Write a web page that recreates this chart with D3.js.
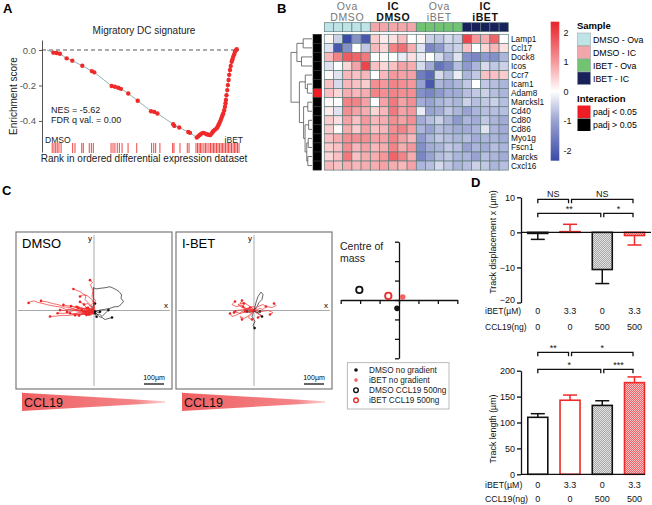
<!DOCTYPE html>
<html><head><meta charset="utf-8">
<script src="https://cdn.jsdelivr.net/npm/d3@7"></script>
<style>body{margin:0;background:#fff}svg{display:block}text{font-family:"Liberation Sans",Arial,sans-serif}</style>
</head><body><svg id="c" width="652" height="505"></svg>
<script>
// ---------------- DATA ----------------
// Panel A: GSEA running enrichment score
const gseaRank = [3.3,5.0,6.7,10.2,13.1,18.3,23.2,24.5,33.5,35.2,36.9,38.3,42.1,47.0,53.9,55.6,57.2,65.4,66.0,68.5,73.2,74.1,77.6,
  78.4,79.0,79.6,80.3,81.0,81.8,82.7,83.6,84.5,85.3,85.8,86.2,87.0,87.9,88.4,88.8,89.2,89.6,90.1,90.5,90.9,91.3,91.8,92.2,92.5,92.7,93.0,93.4,93.7,94.1,94.4,94.8,95.2,95.7,96.1,96.5,97.0,97.4,97.9,98.3];
const gseaES = [-0.015,-0.017,-0.021,-0.047,-0.060,-0.089,-0.119,-0.126,-0.203,-0.207,-0.213,-0.219,-0.245,-0.286,-0.345,-0.349,-0.358,-0.418,-0.428,-0.437,-0.462,-0.467,-0.493,
  -0.486,-0.480,-0.474,-0.470,-0.467,-0.470,-0.475,-0.478,-0.480,-0.471,-0.463,-0.456,-0.450,-0.442,-0.433,-0.424,-0.415,-0.405,-0.393,-0.380,-0.369,-0.358,-0.340,-0.320,-0.300,-0.282,-0.255,-0.226,-0.198,-0.169,-0.140,-0.113,-0.090,-0.066,-0.052,-0.038,-0.024,-0.010,-0.002,0.004];
const rugRanks = [2.7,3.6,4.5,5.3,6.2,7.3,13.3,14.5,18.0,18.8,21.9,23.0,24.0,33.2,34.2,35.2,36.4,37.5,38.9,42.0,46.5,54.2,55.3,56.3,58.5,65.1,65.8,68.9,72.7,73.6,
  77.2,78.0,78.8,79.5,80.3,81.3,82.1,82.9,83.9,84.7,85.5,86.3,87.0,87.8,88.6,89.4,90.2,90.9,91.7,92.5,93.3,94.0,94.8,95.6,96.4,97.2,97.9,98.7,99.5];
const esTicks = [0, -0.2, -0.4];

// Panel B: heatmap
const genes = ["Lamp1","Ccl17","Dock8","Icos","Ccr7","Icam1","Adam8","Marcksl1","Cd40","Cd80","Cd86","Myo1g","Fscn1","Marcks","Cxcl16"];
const sampleGroups = ["DMSO - Ova","DMSO - IC","IBET - Ova","IBET - IC"];
const groupColors = ["#bfe4e8","#f4a7aa","#72c472","#18215a"];
const groupHeaderTop = ["Ova","IC","Ova","IC"];
const groupHeaderBottom = ["DMSO","DMSO","iBET","iBET"];
const interaction = [0,0,0,0,0,0,1,0,0,0,0,0,0,0,0]; // 1 = padj < 0.05
const heat = [
 [0.1,-0.5,-2.0,-1.2,-1.8, 0.5,0.2,0.3,0.6,0.0, 0.1,-0.5,-0.6,-0.4,-0.5, 1.8,1.0,0.8,1.5,0.0],
 [-0.3,-1.8,-1.2,0.0,-0.6, 0.7,0.4,1.2,1.4,0.8, -0.3,-1.3,-1.1,-0.6,-0.5, 0.6,0.0,0.4,0.7,0.3],
 [0.7,1.2,1.6,1.5,1.3, 0.0,0.05,0.0,-0.2,0.3, -0.2,0.0,-0.4,-0.8,-0.3, -1.2,-1.3,-1.1,-1.2,-0.8],
 [-0.3,0.0,0.4,0.9,1.8, 0.6,0.4,0.6,0.9,0.8, -0.4,-0.9,-1.5,-1.3,-0.7, -1.1,-0.8,-0.4,-0.6,-0.5],
 [0.05,-0.3,0.7,0.6,0.7, 0.0,0.7,1.0,0.9,0.9, -1.4,-1.6,-0.4,-0.7,-0.2, -0.8,-0.6,0.6,0.6,0.5],
 [0.6,-0.4,0.7,0.6,0.5, 1.1,1.0,1.2,1.1,1.0, -1.0,-1.8,-0.8,-0.9,-0.8, -0.6,0.0,-0.6,-0.7,-0.8],
 [0.6,0.4,0.8,0.7,0.8, 1.2,1.1,1.2,1.1,1.1, -1.2,-1.3,-1.1,-0.9,-0.9, -0.7,-0.6,-0.5,-0.7,-0.8],
 [0.05,0.0,1.2,1.2,0.9, 0.0,0.9,1.3,0.9,1.1, -0.9,-1.0,-0.8,-0.7,-0.8, -0.5,-0.7,-0.6,-0.5,-0.7],
 [0.2,-0.3,1.1,0.9,0.8, 0.4,0.7,1.3,0.9,1.0, -0.2,-1.0,-0.9,-0.6,-0.8, -1.0,-0.8,-0.7,-0.7,-0.7],
 [0.5,0.3,0.9,0.6,1.0, 0.7,0.8,1.1,0.9,1.1, -0.9,-0.7,-0.5,-0.8,-1.1, -0.8,-0.9,-0.6,-0.8,-0.9],
 [0.5,0.05,0.8,0.5,0.9, 0.6,0.7,1.1,1.2,0.9, -0.8,-1.0,-0.7,-0.8,-0.9, -0.9,-0.8,-0.3,-0.8,-0.9],
 [0.6,0.8,1.1,1.1,1.1, 0.9,0.9,1.2,0.9,0.7, -1.1,-0.8,-0.6,-0.7,-0.8, -0.7,-0.9,-0.8,-0.8,-0.9],
 [0.5,0.6,1.1,0.7,0.9, 0.7,0.8,1.2,0.8,1.0, -1.2,-0.9,-0.8,-0.6,-0.7, -1.0,-0.8,-0.9,-0.7,-0.8],
 [0.4,0.6,1.3,0.6,0.8, 0.8,1.0,1.5,1.2,0.8, -1.3,-1.0,-0.7,-0.6,-0.8, -0.8,-1.0,-0.7,-0.8,-0.9],
 [0.7,0.6,0.8,0.7,0.8, 0.8,0.9,0.8,0.7,0.9, -0.8,-0.7,-0.4,-0.6,-0.8, -0.7,-0.5,-0.6,-0.8,-0.7]
];
const colorbarTicks = [2,1,0,-1,-2];
const dendro = {h:1.0, c:[
  {h:0.72, c:[{h:0.42,c:["Lamp1","Ccl17"]},{h:0.5,c:["Dock8","Icos"]}]},
  {h:0.6, c:[
     {h:0.32, c:["Ccr7",{h:0.22,c:["Icam1","Adam8"]}]},
     {h:0.4, c:[{h:0.2,c:["Marcksl1","Cd40"]},
                {h:0.33,c:[{h:0.16,c:["Cd80","Cd86"]},
                           {h:0.25,c:[{h:0.18,c:["Myo1g","Fscn1"]},{h:0.2,c:["Marcks","Cxcl16"]}]}]}]}
  ]}
]};

// Panel C: tracks (µm, x right, y up)
const dmsoRedTracks = [
 [[0,-5],[-25,-8],[-50,-2],[-80,4],[-110,8],[-140,5],[-170,18],[-200,22],[-230,28],[-255,35],[-280,40],[-300,48],[-315,45],[-327,38]],
 [[0,-8],[-30,-6],[-60,0],[-90,4],[-120,15],[-150,18],[-180,30],[-205,34],[-230,42],[-265,48]],
 [[0,-12],[-25,-10],[-50,-15],[-80,-13],[-110,-18],[-130,-12],[-150,-14],[-182,-14]],
 [[0,5],[-15,25],[-5,40],[-10,55],[-35,75],[-50,80],[-70,95],[-85,100],[-103,108]],
 [[5,0],[0,35],[8,50],[-10,70],[-5,100],[-18,130],[-8,140],[-20,152]],
 [[0,-3],[-25,10],[-38,12],[-50,30],[-70,43]],
 [[0,-6],[-30,-8],[-60,-2],[-90,0],[-120,5],[-145,0],[-170,2]],
 [[0,-10],[-20,-12],[-40,-18],[-60,-10],[-80,-12],[-100,-18],[-120,-14]],
 [[0,0],[-30,5],[-45,2],[-60,15],[-87,19]],
 [[0,-4],[-25,0],[-50,8],[-75,10],[-100,20],[-125,22],[-153,28]],
 [[0,-8],[-25,-10],[-38,-4],[-53,-6]],
 [[0,-10],[-30,-18],[-60,-20],[-95,-20],[-130,-25],[-160,-24],[-185,-28],[-220,-30]],
 [[0,2],[-20,30],[-45,55],[-40,75],[-55,78],[-70,70]],
 [[0,-2],[-35,0],[-50,-6],[-70,-5],[-100,0],[-118,-5],[-135,-8]],
 [[0,-12],[-20,-5],[-45,-20],[-60,-18],[-75,-25]],
 [[0,3],[-15,15],[-30,35],[-50,30]],
 [[0,-15],[-30,-22],[-45,-16],[-60,-18],[-95,-24]],
 [[0,6],[-20,4],[-40,12],[-60,8],[-80,10],[-115,22]],
 [[0,-5],[-15,-8],[-30,-3],[-42,-10]],
 [[0,-10],[-12,-20],[-28,-15],[-38,-22]],
 [[0,0],[-10,8],[-25,5],[-35,12]],
 [[0,-15],[-18,-12],[-33,-18]],
 [[0,-3],[-20,-6],[-35,0],[-50,-4],[-62,2]],
 [[0,5],[-12,10],[-22,4],[-30,14]],
 [[0,-8],[-8,-18],[-20,-25],[-26,-20]],
 [[0,2],[-30,12],[-55,8],[-78,14]]
];
const dmsoBlackTracks = [
 [[0,10],[-3,50],[-3,115],[10,108],[30,111],[55,114],[80,119],[100,110],[113,103],[125,95],[138,78],[135,62],[147,45],[135,30],[122,20],[100,18],[80,11],[55,6],[30,2],[5,-5]],
 [[0,0],[15,-20],[28,-18],[40,-30],[72,2]],
 [[0,-5],[10,-25],[13,-31]],
 [[0,0],[20,-10],[30,-6]],
 [[0,-5],[25,-30],[40,-35],[55,-45],[90,-35]],
 [[0,0],[2,-14]],
 [[0,5],[-8,20],[5,35]]
];
const ibetRedTracks = [
 [[0,0],[-30,10],[-45,5],[-60,25],[-90,20],[-110,30],[-95,45]],
 [[0,0],[-40,-10],[-60,-5],[-80,-20],[-110,-30],[-120,-15]],
 [[0,0],[-20,20],[-50,40],[-70,35],[-60,50]],
 [[0,0],[30,10],[45,5],[60,20],[90,15],[110,25],[100,35]],
 [[0,0],[-25,-25],[-50,-40],[-70,-30],[-60,-45]],
 [[0,0],[-25,8],[-50,5],[-90,0],[-100,-10]],
 [[0,0],[40,-5],[70,0],[95,-10],[80,-20]],
 [[0,0],[-15,-20],[-30,-35],[-10,-45]],
 [[0,0],[-30,5],[-60,15],[-80,30],[-50,35]],
 [[0,0],[20,20],[45,30],[60,20]],
 [[0,0],[-35,-5],[-70,-15],[-95,-5]],
 [[0,0],[15,-15],[35,-25],[20,-35]],
 [[0,0],[-10,15],[-40,10],[-55,20]],
 [[0,0],[-20,-5],[-30,8],[-45,-2]],
 [[0,0],[10,12],[-5,20],[-20,15]]
];
const ibetBlackTracks = [
 [[0,0],[10,40],[20,70],[35,92],[45,80],[40,55],[25,40],[15,20],[0,0]],
 [[0,0],[-10,-30],[5,-55],[-5,-75],[3,-88]],
 [[0,0],[25,-15],[40,-30]],
 [[0,0],[-20,-10],[-35,-5]],
 [[0,0],[10,-10],[30,-5]]
];
// Centre of mass
const comLabels = ["DMSO no gradient","iBET no gradient","DMSO CCL19 500ng","iBET CCL19 500ng"];
const comX = [-1.0, 1.9, -20.4, -5.5];
const comY = [-4.3, 1.5, 5.2, 2.1];

// Panel D
const ibetDose = ["0","3.3","0","3.3"];
const ccl19Dose = ["0","0","500","500"];
const dispMean = [-0.3, 0.2, -10.6, -0.9];
const dispErr  = [1.7, 2.1, 4.0, 2.7];
const lenMean = [110, 143, 133, 177];
const lenErr  = [7, 10, 9, 11];
const dispTicks = [10,0,-10,-20];
const lenTicks = [0,50,100,150,200];
const dispSig = [{a:0,b:1,lv:0,t:"NS"},{a:1,b:3,lv:0,t:"NS"},{a:0,b:2,lv:1,t:"**"},{a:2,b:3,lv:1,t:"*"}];
const lenSig  = [{a:0,b:1,lv:0,t:"**"},{a:1,b:3,lv:0,t:"*"},{a:0,b:2,lv:1,t:"*"},{a:2,b:3,lv:1,t:"***"}];

// ---------------- DRAW ----------------
const svg = d3.select("#c");
const defs = svg.append("defs");
function checker(id, base, light){
  const p = defs.append("pattern").attr("id",id).attr("patternUnits","userSpaceOnUse").attr("width",2).attr("height",2);
  p.append("rect").attr("width",2).attr("height",2).attr("fill",base);
  p.append("rect").attr("width",1).attr("height",1).attr("fill",light);
  p.append("rect").attr("x",1).attr("y",1).attr("width",1).attr("height",1).attr("fill",light);
}
checker("chkGrey","#a8a8a8","#e2e2e2");
checker("chkPink","#ee6468","#f9c3c5");

[["A",3,13],["B",277,13],["C",2,195],["D",471,187]].forEach(([t,x,y])=>
  svg.append("text").attr("x",x).attr("y",y).attr("font-size",13).attr("font-weight","bold").text(t));

// ===== Panel A =====
const gA = svg.append("g");
const xA = d3.scaleLinear().domain([0,100]).range([47,240]);
const yA = d3.scaleLinear().domain([-0.575,0.0563]).range([152,40]);
gA.append("text").attr("x",144).attr("y",34).attr("text-anchor","middle").attr("font-size",10).attr("fill","#222").text("Migratory DC signature");
const axA = gA.append("g").attr("transform","translate(42,0)")
  .call(d3.axisLeft(yA).tickValues(esTicks).tickFormat(d=>d.toFixed(1)).tickSize(3).tickSizeOuter(0));
axA.select(".domain").attr("stroke","#555");
axA.selectAll(".tick line").attr("stroke","#555");
axA.selectAll(".tick text").attr("fill","#555").attr("font-size",9.5).attr("font-family","Liberation Sans, Arial");
gA.append("line").attr("x1",42).attr("x2",239).attr("y1",yA(0)).attr("y2",yA(0))
  .attr("stroke","#444").attr("stroke-dasharray","4,3").attr("stroke-width",0.9);
gA.append("text").attr("transform","translate(17,96) rotate(-90)").attr("text-anchor","middle").attr("font-size",10).attr("fill","#222").text("Enrichment score");
const pts = gseaRank.map((r,i)=>[r,gseaES[i]]);
gA.append("path").attr("d",d3.line().x(d=>xA(d[0])).y(d=>yA(d[1]))([[0,0]].concat(pts)))
  .attr("fill","none").attr("stroke","#7d9a9a").attr("stroke-width",0.8);
gA.selectAll("circle.es").data(pts).join("circle").attr("cx",d=>xA(d[0])).attr("cy",d=>yA(d[1])).attr("r",2.2).attr("fill","#ee2a2a");
gA.selectAll("line.rug").data(rugRanks).join("line").attr("x1",d=>xA(d)).attr("x2",d=>xA(d))
  .attr("y1",143).attr("y2",153).attr("stroke","#ee3030").attr("stroke-width",0.9);
gA.append("text").attr("x",51).attr("y",113).attr("font-size",9).attr("fill","#222").text("NES = -5.62");
gA.append("text").attr("x",51).attr("y",123).attr("font-size",9).attr("fill","#222").text("FDR q val. = 0.00");
gA.append("text").attr("x",45).attr("y",142.5).attr("font-size",8.5).attr("fill","#222").text("DMSO");
gA.append("text").attr("x",243).attr("y",142.5).attr("text-anchor","end").attr("font-size",8.5).attr("fill","#222").text("iBET");
gA.append("text").attr("x",144).attr("y",162).attr("text-anchor","middle").attr("font-size",10).attr("fill","#222").text("Rank in ordered differential expression dataset");

// ===== Panel B =====
const gB = svg.append("g");
const nCol = heat[0].length;
const xB = d3.scaleBand().domain(d3.range(nCol)).range([324.3,508.3]);
const yB = d3.scaleBand().domain(genes).range([34.3,170.1]);
const cB = d3.scaleLinear().domain([-1.95,0,2.15]).range(["#3a4aa6","#ffffff","#e8222a"]).clamp(true);
const cellStroke = "#5f7c7c";
const groupOf = c => Math.floor(c/5);
gB.selectAll("rect.hdr").data(d3.range(nCol)).join("rect")
  .attr("x",c=>xB(c)).attr("y",22.7).attr("width",xB.bandwidth()).attr("height",9)
  .attr("fill",c=>groupColors[groupOf(c)]).attr("stroke",cellStroke).attr("stroke-width",0.7);
sampleGroups.forEach((g,i)=>{
  const cx = xB(i*5) + xB.bandwidth()*2.5;
  const isIC = groupHeaderTop[i]==="IC";
  const t = gB.append("text").attr("text-anchor","middle").attr("font-family","Open Sans, sans-serif")
    .attr("font-size",10.5).attr("fill",isIC?"#111":"#777").attr("font-weight",isIC?600:400).attr("letter-spacing",0.6);
  t.append("tspan").attr("x",cx).attr("y",10).text(groupHeaderTop[i]);
  t.append("tspan").attr("x",cx).attr("y",20.5).text(groupHeaderBottom[i]);
});
heat.forEach((row,r)=>{
  gB.selectAll("rect.r"+r).data(row).join("rect")
   .attr("x",(d,c)=>xB(c)).attr("y",yB(genes[r])).attr("width",xB.bandwidth()).attr("height",yB.bandwidth())
   .attr("fill",d=>cB(d)).attr("stroke",cellStroke).attr("stroke-width",0.7);
});
gB.selectAll("text.gene").data(genes).join("text").attr("x",511).attr("y",d=>yB(d)+yB.bandwidth()/2+3)
  .attr("font-size",8.3).attr("fill","#111").text(d=>d);
gB.selectAll("rect.int").data(genes).join("rect").attr("x",313).attr("y",d=>yB(d)).attr("width",8.5).attr("height",yB.bandwidth())
  .attr("fill",(d,i)=>interaction[i]?"#ee1c25":"#000").attr("stroke","#333").attr("stroke-width",0.6);
const xH = d3.scaleLinear().domain([0,1]).range([312,291]);
function drawNode(n){
  if(typeof n==="string") return {x:xH(0), y:yB(n)+yB.bandwidth()/2};
  const ch = n.c.map(drawNode);
  const x = xH(n.h);
  const ys = ch.map(c=>c.y);
  gB.append("line").attr("x1",x).attr("x2",x).attr("y1",d3.min(ys)).attr("y2",d3.max(ys)).attr("stroke","#555").attr("stroke-width",0.8);
  ch.forEach(c=>gB.append("line").attr("x1",x).attr("x2",c.x).attr("y1",c.y).attr("y2",c.y).attr("stroke","#555").attr("stroke-width",0.8));
  return {x, y:(ys[0]+ys[ys.length-1])/2};
}
drawNode(dendro);
const cbScale = d3.scaleLinear().domain([-2.35,2.35]).range([160.7,21.7]);
const grad = defs.append("linearGradient").attr("id","cbGrad").attr("x1",0).attr("x2",0).attr("y1",1).attr("y2",0);
[-2.35,-1,0,1,2.35].forEach(v=>grad.append("stop").attr("offset",((v+2.35)/4.7*100)+"%").attr("stop-color",cB(v)));
gB.append("rect").attr("x",550.7).attr("y",21.7).attr("width",8.6).attr("height",139).attr("fill","url(#cbGrad)");
gB.selectAll("text.cbt").data(colorbarTicks).join("text").attr("x",563.5).attr("y",d=>cbScale(d)+3.5)
  .attr("font-size",9).attr("fill","#111").text(d=>d);
gB.append("text").attr("x",577).attr("y",29).attr("font-size",9.5).attr("font-weight","bold").text("Sample");
sampleGroups.forEach((g,i)=>{
  gB.append("rect").attr("x",577.5).attr("y",33+i*13).attr("width",13).attr("height",12.5).attr("fill",groupColors[i]).attr("stroke","#8a9a9a").attr("stroke-width",0.5);
  gB.append("text").attr("x",593).attr("y",42.5+i*13).attr("font-size",8.8).text(g);
});
gB.append("text").attr("x",577).attr("y",102).attr("font-size",9.5).attr("font-weight","bold").text("Interaction");
["padj < 0.05","padj > 0.05"].forEach((g,i)=>{
  gB.append("rect").attr("x",577.5).attr("y",105.5+i*13).attr("width",13).attr("height",12.5).attr("fill",i?"#000":"#ee1c25");
  gB.append("text").attr("x",593).attr("y",115+i*13).attr("font-size",8.8).text(g);
});

// ===== Panel C =====
const gC = svg.append("g");
function trackPanel(x0, title, redT, blackT){
  const x1 = x0+156, yTop=232, yBot=389;
  const sx = d3.scaleLinear().domain([-390,390]).range([x0,x1]);
  const sy = d3.scaleLinear().domain([-393,393]).range([yBot,yTop]);
  gC.append("rect").attr("x",x0).attr("y",yTop).attr("width",156).attr("height",yBot-yTop).attr("fill","#fff").attr("stroke","#7a7a7a").attr("stroke-width",1.2);
  gC.append("line").attr("x1",x0+2).attr("x2",x1-2).attr("y1",sy(0)).attr("y2",sy(0)).attr("stroke","#aaa").attr("stroke-width",1);
  gC.append("line").attr("x1",sx(0)).attr("x2",sx(0)).attr("y1",yTop+3).attr("y2",yBot-3).attr("stroke","#aaa").attr("stroke-width",1);
  gC.append("text").attr("x",sx(0)-2).attr("y",yTop+9).attr("text-anchor","end").attr("font-size",8).attr("font-family","Lato, sans-serif").text("y");
  gC.append("text").attr("x",x1-6).attr("y",sy(0)-3).attr("text-anchor","middle").attr("font-size",8).attr("font-family","Lato, sans-serif").text("x");
  gC.append("text").attr("x",x0+6).attr("y",yTop+16).attr("font-size",13).attr("font-family","Lato, sans-serif").text(title);
  const line = d3.line().x(d=>sx(d[0])).y(d=>sy(d[1])).curve(d3.curveLinear);
  [[blackT,"#111"],[redT,"#ee2424"]].forEach(([T,col])=>{
    gC.selectAll(null).data(T).join("path").attr("d",line).attr("fill","none").attr("stroke",col).attr("stroke-width",0.65);
    gC.selectAll(null).data(T).join("circle").attr("cx",t=>sx(t[t.length-1][0])).attr("cy",t=>sy(t[t.length-1][1])).attr("r",1.3).attr("fill",col);
  });
  gC.append("text").attr("x",x1-18).attr("y",380).attr("text-anchor","middle").attr("font-size",7).attr("font-family","Lato, sans-serif").text("100µm");
  gC.append("line").attr("x1",x1-28).attr("x2",x1-28+(sx(100)-sx(0))).attr("y1",384).attr("y2",384).attr("stroke","#000").attr("stroke-width",1.2);
  const gid = "wedge"+x0;
  const wg = defs.append("linearGradient").attr("id",gid);
  wg.append("stop").attr("offset","0%").attr("stop-color","#ef6063");
  wg.append("stop").attr("offset","80%").attr("stop-color","#f48487");
  wg.append("stop").attr("offset","100%").attr("stop-color","#fbd2d3");
  gC.append("path").attr("d",`M${x0+6},392.7 L${x1-7},401.3 L${x1-7},402.7 L${x0+6},411 Z`).attr("fill",`url(#${gid})`);
  gC.append("text").attr("x",x0+8).attr("y",406.5).attr("font-size",12.5).attr("font-family","Lato, sans-serif").attr("fill","#111").text("CCL19");
}
trackPanel(16,"DMSO",dmsoRedTracks,dmsoBlackTracks);
trackPanel(176,"I-BET",ibetRedTracks,ibetBlackTracks);

const sxM = d3.scaleLinear().domain([-30,30]).range([340.7,457.3]);
const syM = d3.scaleLinear().domain([-30,30]).range([358.3,241.7]);
const axX = gC.append("g").attr("transform",`translate(0,${syM(0)})`).call(d3.axisBottom(sxM).tickValues([-30,-20,-10,0,10,20,30]).tickSize(4).tickFormat("").tickSizeOuter(0));
const axY = gC.append("g").attr("transform",`translate(${sxM(0)},0)`).call(d3.axisLeft(syM).tickValues([-30,-20,-10,0,10,20,30]).tickSize(4).tickFormat("").tickSizeOuter(0));
[axX,axY].forEach(a=>{a.selectAll("path,line").attr("stroke","#111").attr("stroke-width",1.3);});
gC.append("text").attr("x",340).attr("y",250).attr("font-size",10.5).attr("fill","#222").text("Centre of");
gC.append("text").attr("x",340).attr("y",262).attr("font-size",10.5).attr("fill","#222").text("mass");
const comStyle = [{f:"#111",s:"none"},{f:"#f26060",s:"none"},{f:"#fff",s:"#111"},{f:"#fff",s:"#ee2a2a"}];
comX.forEach((x,i)=>{
  gC.append("circle").attr("cx",sxM(x)).attr("cy",syM(comY[i])).attr("r",i<2?2.8:3.2)
    .attr("fill",comStyle[i].f).attr("stroke",comStyle[i].s).attr("stroke-width",1.8);
});
gC.append("rect").attr("x",347.3).attr("y",362.7).attr("width",101.7).attr("height",46.3).attr("fill","#fff").attr("stroke","#aaa").attr("stroke-width",0.8);
comLabels.forEach((l,i)=>{
  const y = 370+i*10.1;
  gC.append("circle").attr("cx",356).attr("cy",y).attr("r",i<2?1.8:2.3).attr("fill",comStyle[i].f).attr("stroke",comStyle[i].s).attr("stroke-width",1.4);
  gC.append("text").attr("x",369).attr("y",y+3).attr("font-size",8.2).attr("fill","#222").text(l);
});

// ===== Panel D =====
const gD = svg.append("g");
const xD = d3.scalePoint().domain(d3.range(4)).range([537.8,634.5]);
const barW = 20;
const barFill = ["#fff","#fff","url(#chkGrey)","url(#chkPink)"];
const barStroke = ["#111","#ee2a2a","#111","#ee2a2a"];
function barChart(yS, means, errs, ticks, axisX, sig, levY, rowY, ylab, ylabY, zeroLineEnd, rowFont){
  const ax = gD.append("g").attr("transform",`translate(${axisX},0)`).call(d3.axisLeft(yS).tickValues(ticks).tickSize(4).tickPadding(2).tickSizeOuter(0));
  ax.selectAll("path,line").attr("stroke","#111").attr("stroke-width",1.3);
  ax.selectAll(".tick text").attr("font-size",9).attr("fill","#111").attr("font-family","Liberation Sans, Arial")
    .attr("dy",(d,i)=> i===ticks.length-1 && ticks[i]<0 ? "0.02em" : "0.32em");
  means.forEach((m,i)=>{
    const cx = xD(i), y0 = yS(0), y1 = yS(m);
    const ye = yS(m + (m<0?-errs[i]:errs[i]));
    gD.append("line").attr("x1",cx).attr("x2",cx).attr("y1",y1).attr("y2",ye).attr("stroke",barStroke[i]).attr("stroke-width",1.5);
    gD.append("line").attr("x1",cx-7).attr("x2",cx+7).attr("y1",ye).attr("y2",ye).attr("stroke",barStroke[i]).attr("stroke-width",1.5);
    gD.append("rect").attr("x",cx-barW/2).attr("y",Math.min(y0,y1)).attr("width",barW).attr("height",Math.max(0.5,Math.abs(y1-y0)))
      .attr("fill",barFill[i]).attr("stroke",barStroke[i]).attr("stroke-width",1.6);
  });
  gD.append("line").attr("x1",axisX).attr("x2",zeroLineEnd).attr("y1",yS(0)).attr("y2",yS(0)).attr("stroke","#111").attr("stroke-width",1.3);
  sig.forEach(s=>{
    const xa = xD(s.a) + (s.a>0?1.5:0), xb = xD(s.b) - 1.5;
    const y = levY[s.lv];
    gD.append("path").attr("d",`M${xa},${y+4} L${xa},${y} L${xb},${y} L${xb},${y+4}`).attr("fill","none").attr("stroke","#111").attr("stroke-width",1.3);
    gD.append("text").attr("x",(xa+xb)/2).attr("y",s.t.includes("*")?y-1.5:y-2.8).attr("text-anchor","middle").attr("font-size",9).attr("fill","#111").text(s.t);
  });
  [["iBET(µM)",ibetDose],["CCL19(ng)",ccl19Dose]].forEach(([lab,vals],k)=>{
    gD.append("text").attr("x",485).attr("y",rowY[k]).attr("font-size",rowFont).attr("fill","#111").text(lab);
    vals.forEach((v,i)=>gD.append("text").attr("x",xD(i)).attr("y",rowY[k]).attr("text-anchor","middle").attr("font-size",9).attr("fill","#111").text(v));
  });
  gD.append("text").attr("transform",`translate(496,${ylabY}) rotate(-90)`).attr("text-anchor","middle").attr("font-size",8.8).attr("fill","#111").text(ylab);
}
const yD1 = d3.scaleLinear().domain([-20,10]).range([302.5,197.3]);
barChart(yD1, dispMean, dispErr, dispTicks, 521, dispSig, [199.3,213.3], [313.5,330], "Track displacement x (µm)", 242, 651, 8.5);
const yD2 = d3.scaleLinear().domain([0,200]).range([474.3,370.7]);
barChart(yD2, lenMean, lenErr, lenTicks, 521, lenSig, [352.3,369.3], [487.5,501.5], "Track length (µm)", 429, 645, 8.8);
</script></body></html>
